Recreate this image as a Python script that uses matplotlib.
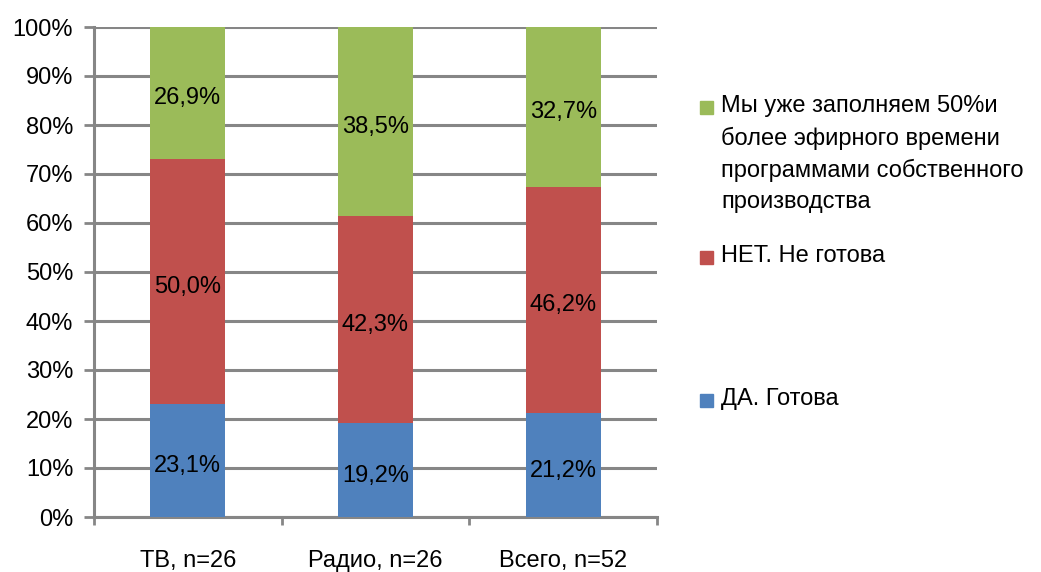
import matplotlib.pyplot as plt
import matplotlib.patches as mpatches
import numpy as np

plt.rcParams['font.family'] = ['Liberation Sans', 'DejaVu Sans']

categories = ['ТВ, n=26', 'Радио, n=26', 'Всего, n=52']
da_gotova = [23.1, 19.2, 21.2]
net_ne_gotova = [50.0, 42.3, 46.2]
uzhe_zapolnyaem = [26.9, 38.5, 32.7]

series = [
    (da_gotova, '#4F81BD', 'ДА. Готова'),
    (net_ne_gotova, '#C0504D', 'НЕТ. Не готова'),
    (uzhe_zapolnyaem, '#9BBB59',
     'Мы уже заполняем 50%и\nболее эфирного времени\nпрограммами собственного\nпроизводства'),
]

grey = '#868686'
fs = 17

fig = plt.figure(figsize=(10.41, 5.72), dpi=100)
ax = fig.add_axes([94 / 1041, 1 - 517 / 572, 563 / 1041, 490 / 572])

x = np.arange(len(categories))
bottom = np.zeros(len(categories))
for values, color, label in series:
    vals = np.array(values) / 100.0
    ax.bar(x, vals, 0.40, bottom=bottom, color=color, zorder=3)
    for xi, b, v in zip(x, bottom, vals):
        ax.annotate(('%.1f%%' % (v * 100)).replace('.', ','), xy=(xi, b + v / 2),
                    xytext=(0, -4), textcoords='offset points',
                    ha='center', va='center', fontsize=fs, zorder=4)
    bottom += vals

ax.set_xlim(-0.5, 2.5)
ax.set_ylim(0, 1)
ax.set_yticks(np.linspace(0, 1, 11))
ax.set_yticklabels(['%d%%' % v for v in range(0, 101, 10)], fontsize=fs)
ax.yaxis.grid(True, color=grey, linewidth=2.2, zorder=0)
ax.set_axisbelow(True)

ax.set_xticks([-0.5, 0.5, 1.5, 2.5])
ax.set_xticklabels([])
ax.set_xticks(x, minor=True)
ax.set_xticklabels(categories, minor=True, fontsize=fs)
ax.tick_params(axis='x', which='major', direction='out', length=6, width=2, color=grey)
ax.tick_params(axis='x', which='minor', length=0, pad=24)
ax.tick_params(axis='y', direction='out', length=7, width=2, color=grey, pad=8)

for side in ['top', 'right']:
    ax.spines[side].set_visible(False)
for side in ['left', 'bottom']:
    ax.spines[side].set_color(grey)
    ax.spines[side].set_linewidth(2.2)

# legend entries, placed like the spread-out original
legend_y = [107, 257, 400]
for (values, color, label), yy in zip(series[::-1], legend_y):
    yf = 1 - yy / 572
    fig.patches.append(mpatches.Rectangle((700 / 1041, yf - 6.5 / 572), 13 / 1041, 13 / 572,
                                          transform=fig.transFigure, color=color,
                                          figure=fig))
    fig.text(721 / 1041, yf + 12 / 572, label, ha='left', va='top', fontsize=fs,
             linespacing=1.52)

fig.savefig('out.png', dpi=100)
